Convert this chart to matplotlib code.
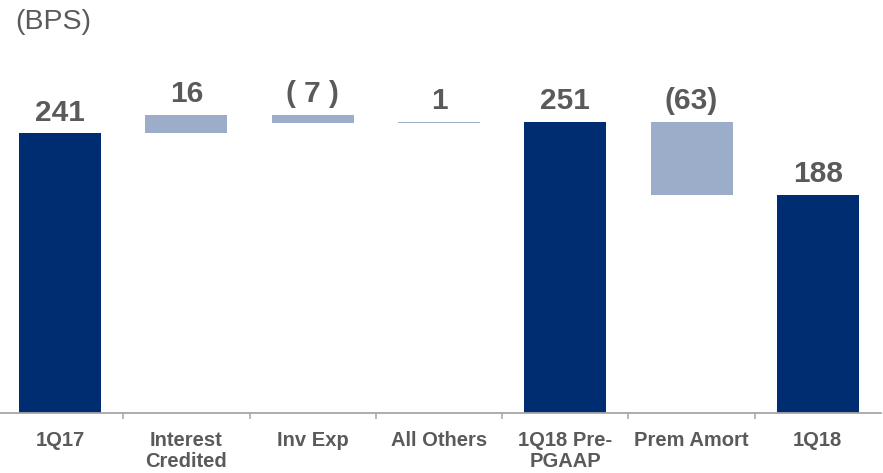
import matplotlib
matplotlib.use("Agg")
import matplotlib.pyplot as plt
import numpy as np

# Basis-point walk from 1Q17 to 1Q18
categories = ["1Q17", "Interest\nCredited", "Inv Exp", "All Others",
              "1Q18 Pre-\nPGAAP", "Prem Amort", "1Q18"]
values = [241, 16, -7, 1, 251, -63, 188]
is_total = [True, False, False, False, True, False, True]
value_labels = ["241", "16", "( 7 )", "1", "251", "(63)", "188"]

NAVY = "#002D72"
STEEL = "#9BADC8"
TEXT = "#595A5C"
AXIS = "#A6A6A6"

plt.rcParams["font.family"] = ["Liberation Sans", "DejaVu Sans"]

fig = plt.figure(figsize=(8.83, 4.73), dpi=100)
ax = fig.add_axes([-3 / 883, 60 / 473, 884 / 883, 348 / 473])

# Build floating segments from the running total
bottoms, heights, colors, tops = [], [], [], []
running = 0
for v, tot in zip(values, is_total):
    if tot:
        bottoms.append(0)
        heights.append(v)
        running = v
        colors.append(NAVY)
        tops.append(v)
    else:
        start = running
        running = running + v
        bottoms.append(min(start, running))
        heights.append(abs(v))
        colors.append(STEEL)
        tops.append(max(start, running))

x = np.arange(len(categories))
ax.bar(x, heights, bottom=bottoms, width=0.65, color=colors, linewidth=0)

for xi, top, lab in zip(x, tops, value_labels):
    ax.annotate(lab, (xi, top), xytext=(0, 9), textcoords="offset points",
                ha="center", va="baseline", fontsize=21.5, fontweight="bold",
                color=TEXT)

ax.set_xlim(-0.5, len(categories) - 0.5)
ax.set_ylim(0, 300)

for side in ["left", "right", "top"]:
    ax.spines[side].set_visible(False)
ax.spines["bottom"].set_color(AXIS)
ax.spines["bottom"].set_linewidth(1.3)

ax.set_yticks([])
ax.set_xticks(x)
ax.set_xticklabels(categories, fontsize=14.5, fontweight="bold", color=TEXT,
                   linespacing=1.15)
ax.tick_params(axis="x", which="major", length=0, pad=13)
ax.set_xticks(np.arange(0.5, len(categories) - 0.5, 1.0), minor=True)
ax.tick_params(axis="x", which="minor", length=4, width=1.1, color=AXIS,
               direction="out")

fig.text(15 / 883, 1 - 9 / 473, "(BPS)", fontsize=20.5, color=TEXT,
         ha="left", va="top")

fig.savefig("out.png", dpi=100)
